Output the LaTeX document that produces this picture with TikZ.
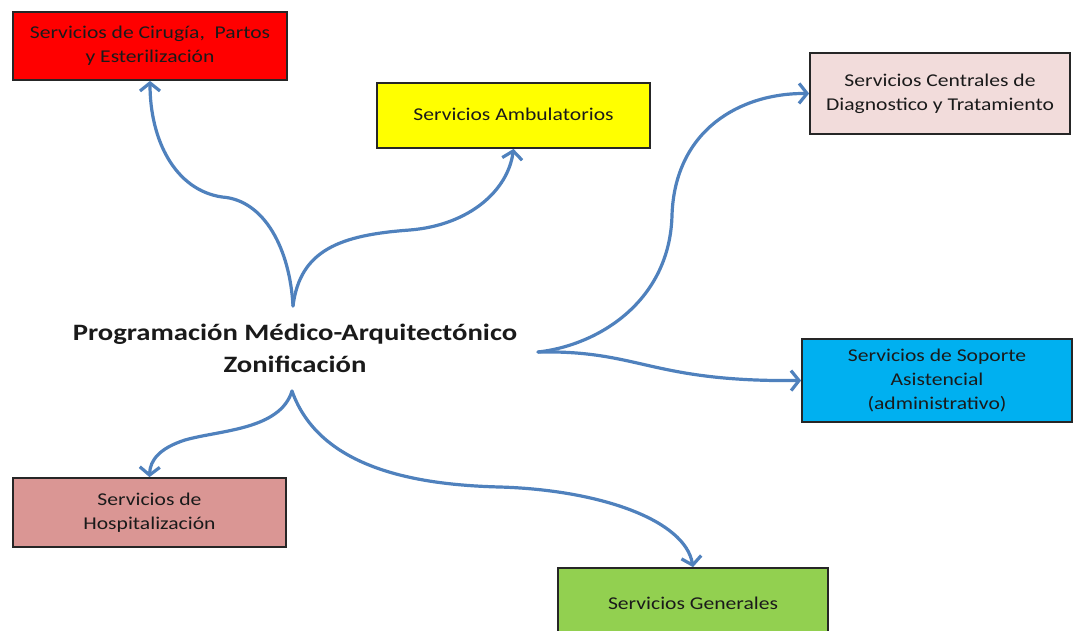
\documentclass[tikz,border=0pt]{standalone}
\usepackage{fontspec}
\usepackage{graphicx}
\setmainfont{Carlito}
\usetikzlibrary{arrows.meta}
\definecolor{arrowblue}{HTML}{4F81BD}
\definecolor{cred}{HTML}{FF0000}
\definecolor{cyellow}{HTML}{FFFF00}
\definecolor{cpink}{HTML}{F2DCDB}
\definecolor{cblue}{HTML}{00B0F0}
\definecolor{chosp}{HTML}{DA9694}
\definecolor{cgreen}{HTML}{92D050}
\definecolor{cborder}{HTML}{262626}
\definecolor{ctext}{HTML}{1A1A1A}
\newcommand{\stretchtxt}[1]{\scalebox{1.2}[1]{\begin{tabular}{@{}c@{}}#1\end{tabular}}}
\newcommand{\stretchbig}[1]{\scalebox{1.22}[1]{\begin{tabular}{@{}c@{}}#1\end{tabular}}}
\tikzset{
  areabox/.style={draw=cborder, line width=1.8pt, rectangle, inner sep=0pt,
    text=ctext, font=\fontsize{18}{24}\selectfont},
  link/.style={draw=arrowblue, line width=3.2pt, line cap=round,
    -{Straight Barb[length=8pt,width=20pt,line width=3.2pt]}}
}
\begin{document}
\begin{tikzpicture}[x=1pt,y=-1pt]
\useasboundingbox (0,0) rectangle (1073,630);
\clip (0,0) rectangle (1073,630);
\fill[white] (0,0) rectangle (1073,630);

\node[areabox, fill=cred, minimum width=274pt, minimum height=68pt] (red) at (150,46)
  {\stretchtxt{Servicios de Cirugía, \ Partos\\y Esterilización}};
\node[areabox, fill=cyellow, minimum width=273pt, minimum height=65pt] (yellow) at (513.5,115.5)
  {\stretchtxt{Servicios Ambulatorios}};
\node[areabox, fill=cpink, minimum width=260pt, minimum height=81pt] (pink) at (940,93.5)
  {\stretchtxt{Servicios Centrales de\\Diagnostico y Tratamiento}};
\node[areabox, fill=cblue, minimum width=270pt, minimum height=83pt] (blue) at (937,380.5)
  {\stretchtxt{Servicios de Soporte\\Asistencial\\(administrativo)}};
\node[areabox, fill=chosp, minimum width=273pt, minimum height=69pt] (hosp) at (149.5,512.5)
  {\stretchtxt{Servicios de\\Hospitalización}};
\node[areabox, fill=cgreen, minimum width=270pt, minimum height=74pt] (green) at (693,605)
  {\stretchtxt{Servicios Generales}};

\node[text=ctext, font=\fontsize{23.5}{32}\selectfont\bfseries, inner sep=0pt] (center) at (295,350)
  {\stretchbig{Programación Médico-Arquitectónico\\Zonificación}};

\coordinate (ctop) at (293,306);
\coordinate (cbot) at (292,391);
\coordinate (cright) at (538,352);

\draw[link] (ctop) .. controls (290,250) and (265,200) .. (222,197)
  .. controls (175,190) and (150,140) .. (red.south);
\draw[link] (ctop) .. controls (300,250) and (340,235) .. (410,230)
  .. controls (470,225) and (508,190) .. (yellow.south);
\draw[link] (cright) .. controls (600,345) and (670,300) .. (672,215)
  .. controls (675,130) and (740,93) .. (pink.west);
\draw[link] (cright) .. controls (640,350) and (650,382) .. (blue.west);
\draw[link] (cbot) .. controls (280,430) and (220,430) .. (185,440)
  .. controls (160,448) and (150,460) .. (hosp.north);
\draw[link] (cbot) .. controls (320,470) and (420,485) .. (500,487)
  .. controls (600,490) and (685,520) .. (green.north);
\end{tikzpicture}
\end{document}
